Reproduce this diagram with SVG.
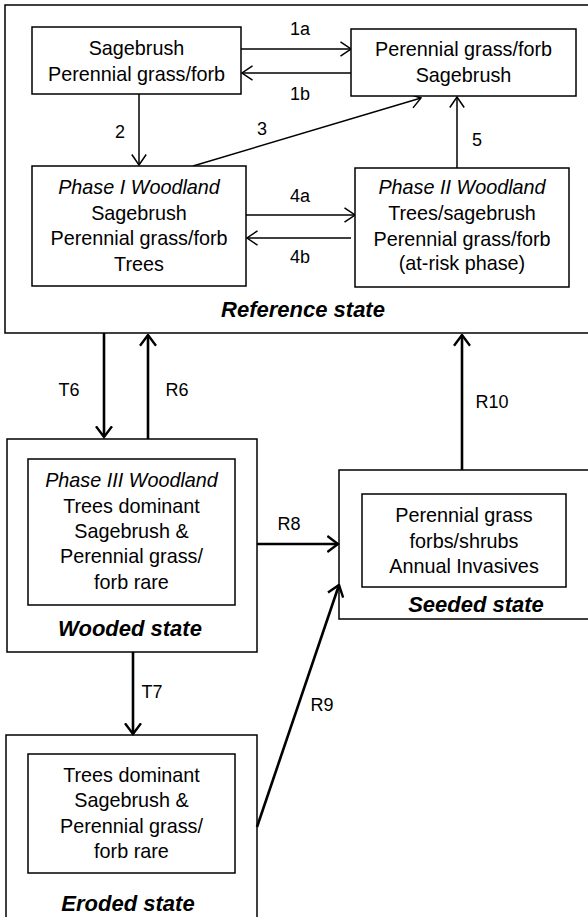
<svg xmlns="http://www.w3.org/2000/svg" width="588" height="917" viewBox="0 0 588 917">
<defs>
<style>
.box{fill:#fff;stroke:#000;stroke-width:1.5}
.big{fill:#fff;stroke:#000;stroke-width:1.5}
.t{font-family:"Liberation Sans",Arial,sans-serif;font-size:19.8px;text-anchor:middle;fill:#000}
.i{font-style:italic}
.lbl{font-family:"Liberation Sans",Arial,sans-serif;font-size:18px;text-anchor:middle;fill:#000}
.st{font-family:"Liberation Sans",Arial,sans-serif;font-size:22px;font-weight:bold;font-style:italic;text-anchor:middle;fill:#000}
.thin{fill:none;stroke:#000;stroke-width:1.5;marker-end:url(#ah)}
.thick{fill:none;stroke:#000;stroke-width:2.6;marker-end:url(#ahk)}
</style>
<marker id="ah" viewBox="0 0 12 16" refX="11" refY="8" markerWidth="12" markerHeight="16" orient="auto" markerUnits="userSpaceOnUse">
<path d="M0.5,0.8 L11,8 L0.5,15.2" fill="none" stroke="#000" stroke-width="1.5"/>
</marker>
<marker id="ahk" viewBox="0 0 13 18" refX="11.5" refY="9" markerWidth="13" markerHeight="18" orient="auto" markerUnits="userSpaceOnUse">
<path d="M0.8,1 L11.5,9 L0.8,17" fill="none" stroke="#000" stroke-width="2.4"/>
</marker>
</defs>
<rect width="588" height="917" fill="#fff"/>

<g id="reference-state">
<rect class="big" x="5" y="5" width="590" height="328"/>
<text class="st" x="303" y="317">Reference state</text>
</g>

<g id="wooded-state">
<rect class="big" x="7" y="439" width="250" height="213"/>
<text class="st" x="130" y="636">Wooded state</text>
</g>

<g id="seeded-state">
<rect class="big" x="339" y="470" width="260" height="149"/>
<text class="st" x="476" y="612">Seeded state</text>
</g>

<g id="eroded-state">
<rect class="big" x="6" y="735" width="251" height="200"/>
<text class="st" x="128" y="911">Eroded state</text>
</g>

<g id="connectors">
<line class="thin" x1="241" y1="49" x2="351" y2="49"/>
<line class="thin" x1="351" y1="73" x2="242" y2="73"/>
<line class="thin" x1="139" y1="94" x2="139" y2="165"/>
<line class="thin" x1="193" y1="166" x2="421" y2="98"/>
<line class="thin" x1="457" y1="168" x2="457" y2="97"/>
<line class="thin" x1="246" y1="215" x2="355" y2="215"/>
<line class="thin" x1="351" y1="238" x2="247" y2="238"/>
<line class="thick" x1="104" y1="333" x2="104" y2="437"/>
<line class="thick" x1="148" y1="439" x2="148" y2="335"/>
<line class="thick" x1="462" y1="470" x2="462" y2="335"/>
<line class="thick" x1="257" y1="544" x2="338" y2="544"/>
<line class="thick" x1="133" y1="652" x2="133" y2="734"/>
<line class="thick" x1="257" y1="827" x2="339" y2="585"/>
<text class="lbl" x="300" y="35">1a</text>
<text class="lbl" x="300" y="100">1b</text>
<text class="lbl" x="120" y="138">2</text>
<text class="lbl" x="262" y="135">3</text>
<text class="lbl" x="477" y="146">5</text>
<text class="lbl" x="300" y="202">4a</text>
<text class="lbl" x="300" y="263">4b</text>
<text class="lbl" x="69" y="396">T6</text>
<text class="lbl" x="177" y="396">R6</text>
<text class="lbl" x="492" y="408">R10</text>
<text class="lbl" x="289" y="530">R8</text>
<text class="lbl" x="152" y="698">T7</text>
<text class="lbl" x="322" y="711">R9</text>
</g>

<g id="phase-sagebrush">
<rect class="box" x="32" y="27" width="209" height="67"/>
<text class="t" x="136.5" y="55">Sagebrush</text>
<text class="t" x="136.5" y="80.5">Perennial grass/forb</text>
</g>

<g id="phase-perennial">
<rect class="box" x="351" y="29" width="225" height="67"/>
<text class="t" x="463.5" y="56">Perennial grass/forb</text>
<text class="t" x="463.5" y="81.5">Sagebrush</text>
</g>

<g id="phase-1">
<rect class="box" x="32" y="166" width="214" height="120"/>
<text class="t i" x="139" y="194">Phase I Woodland</text>
<text class="t" x="139" y="220">Sagebrush</text>
<text class="t" x="139" y="245">Perennial grass/forb</text>
<text class="t" x="139" y="271">Trees</text>
</g>

<g id="phase-2">
<rect class="box" x="355" y="168" width="214" height="119"/>
<text class="t i" x="462" y="194">Phase II Woodland</text>
<text class="t" x="462" y="220">Trees/sagebrush</text>
<text class="t" x="462" y="246">Perennial grass/forb</text>
<text class="t" x="462" y="270">(at-risk phase)</text>
</g>

<g id="phase-3">
<rect class="box" x="28" y="459" width="207" height="146"/>
<text class="t i" x="131.5" y="487">Phase III Woodland</text>
<text class="t" x="131.5" y="513">Trees dominant</text>
<text class="t" x="131.5" y="538">Sagebrush &amp;</text>
<text class="t" x="131.5" y="563">Perennial grass/</text>
<text class="t" x="131.5" y="589">forb rare</text>
</g>

<g id="seeded-phase">
<rect class="box" x="362" y="494" width="204" height="93"/>
<text class="t" x="464" y="522">Perennial grass</text>
<text class="t" x="464" y="548">forbs/shrubs</text>
<text class="t" x="464" y="573">Annual Invasives</text>
</g>

<g id="eroded-phase">
<rect class="box" x="28" y="754" width="207" height="119"/>
<text class="t" x="131.5" y="782">Trees dominant</text>
<text class="t" x="131.5" y="807">Sagebrush &amp;</text>
<text class="t" x="131.5" y="833">Perennial grass/</text>
<text class="t" x="131.5" y="858">forb rare</text>
</g>
</svg>
